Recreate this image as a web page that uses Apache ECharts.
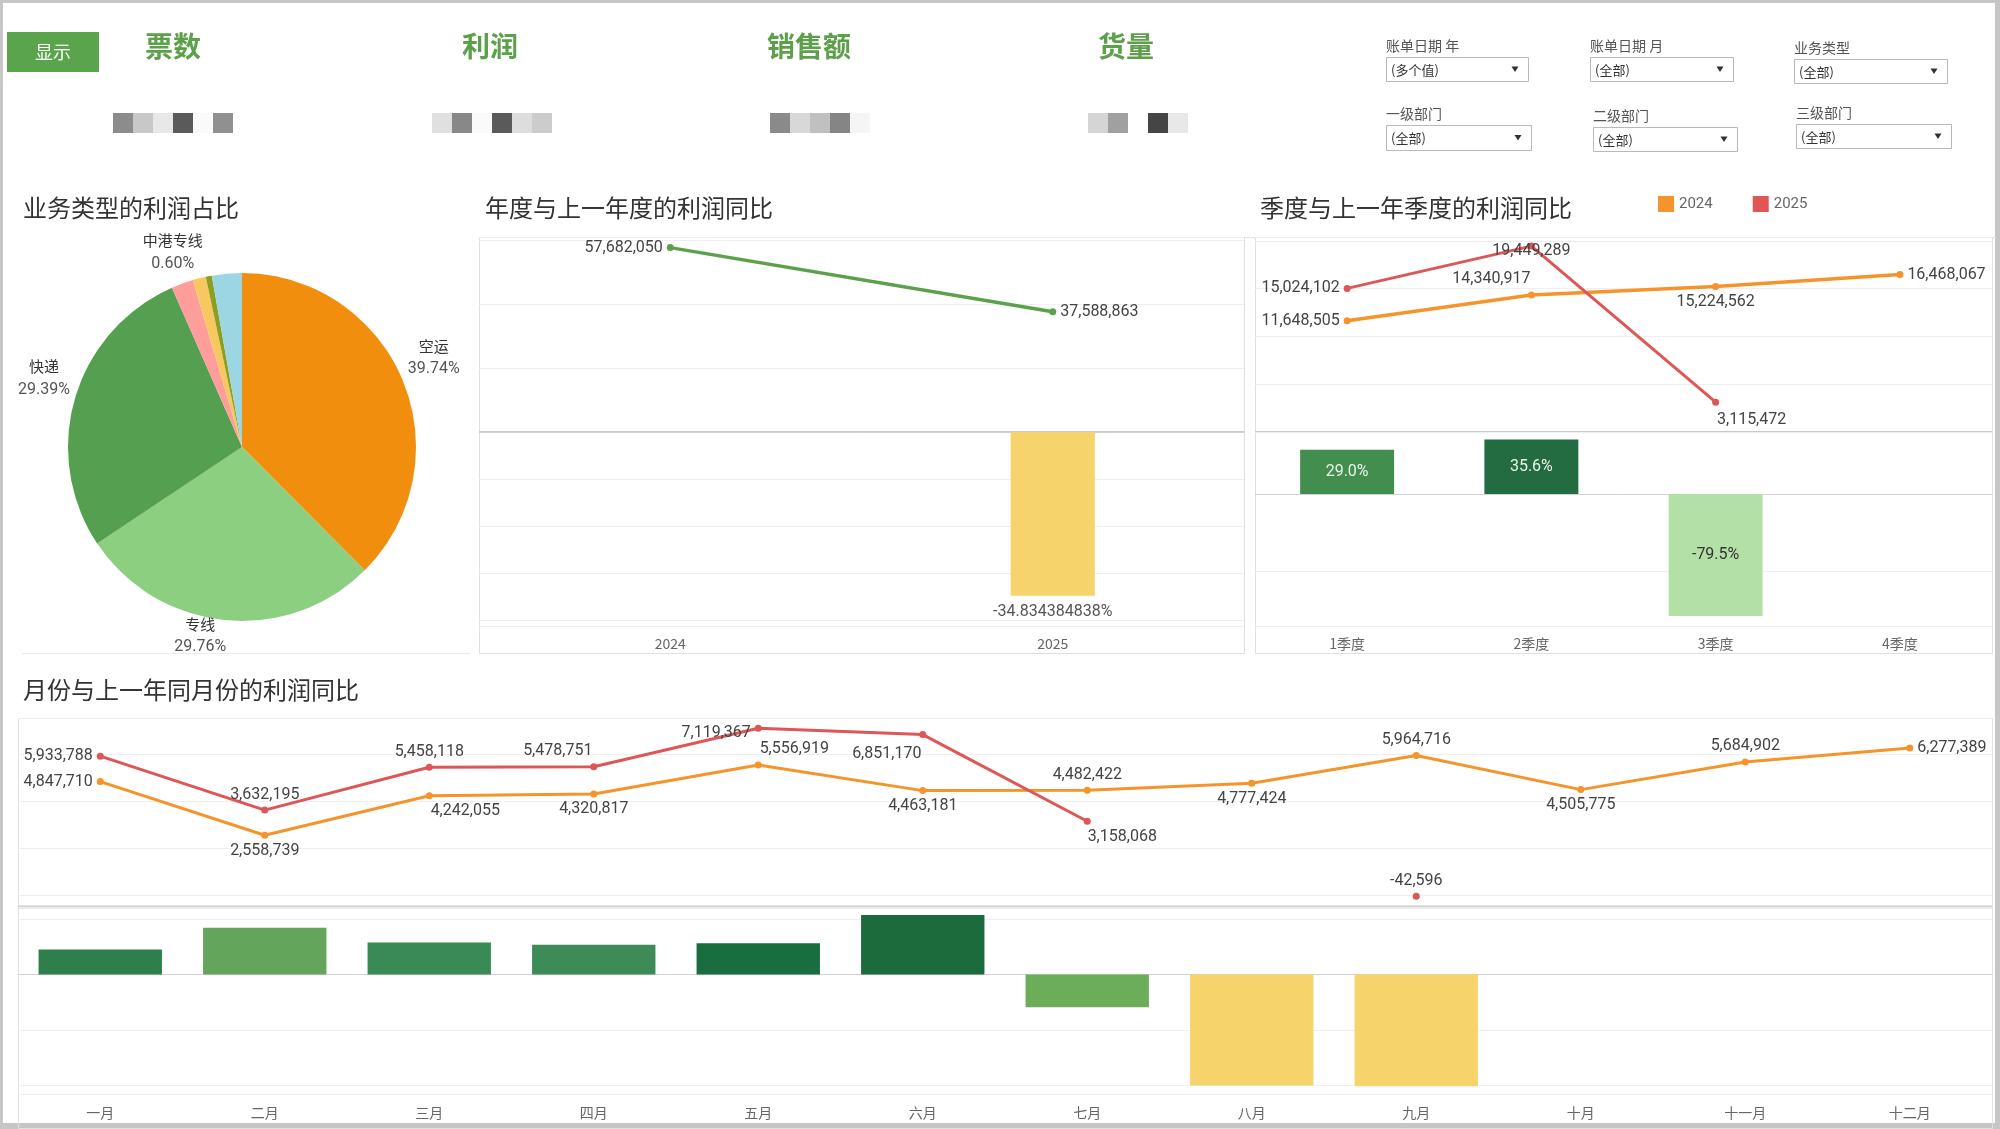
<!DOCTYPE html>
<html>
<head>
<meta charset="utf-8">
<title>利润分析</title>
<script src="https://cdn.jsdelivr.net/npm/echarts@6/dist/echarts.min.js"></script>
<style>
html, body { margin: 0; padding: 0; background: #fff; }
#main { width: 2000px; height: 1129px; }
</style>
</head>
<body>
<div id="main"></div>
<script>
// ---- data ----
const kpiNames = ['票数', '利润', '销售额', '货量'];
const filterLabels = ['账单日期 年', '账单日期 月', '业务类型', '一级部门', '二级部门', '三级部门'];
const filterValues = ['(多个值)', '(全部)', '(全部)', '(全部)', '(全部)', '(全部)'];

const pieNames = ['空运', '专线', '快递', '海运', '陆运', '中港专线', '其他'];
const pieProfit = [37861000, 28352000, 28000000, 2050000, 1230000, 571600, -2800000];

const years = ['2024', '2025'];
const yearProfit = [57682050, 37588863];
const yearYoY = [null, -34.834384838];

const quarters = ['1季度', '2季度', '3季度', '4季度'];
const q2024 = [11648505, 14340917, 15224562, 16468067];
const q2025 = [15024102, 19449289, 3115472, null];
const qYoY = [29.0, 35.6, -79.5, null];

const months = ['一月', '二月', '三月', '四月', '五月', '六月', '七月', '八月', '九月', '十月', '十一月', '十二月'];
const m2024 = [4847710, 2558739, 4242055, 4320817, 5556919, 4463181, 4482422, 4777424, 5964716, 4505775, 5684902, 6277389];
const m2025 = [5933788, 3632195, 5458118, 5478751, 7119367, 6851170, 3158068, null, -42596, null, null, null];
const mYoY = [22.4, 42.0, 28.7, 26.8, 28.1, 53.5, -29.5, -100, -100.7, null, null, null];

// ---- styles ----
const FONT = '"Noto Sans CJK SC", "Noto Sans", sans-serif';
const NUM_FONT = 'Roboto, "Noto Sans", sans-serif';
const ORANGE = '#f5942a', RED = '#de5656', GREEN = '#5ba14c';
const pieColors = ['#f28e0e', '#8ccf80', '#559f50', '#ff9d9a', '#f6c85f', '#8c9f22', '#9dd6e3'];
const pieLabeled = [true, true, true, false, false, true, false];
const pieLabelShift = [[0, -10], [-22, -8], [0, -11], [0, 0], [0, 0], [-31, 2], [0, 0]];
const yearBarColors = ['#f7d36b', '#f7d36b'];
const qBarColors = ['#418e4f', '#236b40', '#b3e0a6', '#b3e0a6'];
const qBarText = ['#eaf5ea', '#eaf5ea', '#333', '#333'];
const mBarColors = ['#2f7f4d', '#63a55a', '#3a8a55', '#3d8c57', '#186e3e', '#1b6b3d', '#6cad5a', '#f7d36b', '#f7d36b', '#ccc', '#ccc', '#ccc'];

// label placement per point: [position, offset]
const annualPos = [['left', [0, 0]], ['right', [0, 0]]];
const q2024Pos = [['left', [0, 0]], ['top', [-40, 0]], ['bottom', [0, 0]], ['right', [0, 0]]];
const q2025Pos = [['left', [0, 0]], ['top', [0, 20]], ['bottom', [36, 2]], ['top', [0, 0]]];
const m2024Pos = [['left', [0, 0]], ['bottom', [0, 0]], ['bottom', [36, 0]], ['bottom', [0, 0]], ['top', [36, 0]], ['bottom', [0, 0]],
  ['top', [0, 0]], ['bottom', [0, 0]], ['top', [0, 0]], ['bottom', [0, 0]], ['top', [0, 0]], ['right', [0, 0]]];
const m2025Pos = [['left', [0, 0]], ['top', [0, 0]], ['top', [0, 0]], ['top', [-36, 0]], ['left', [0, 5]], ['bottom', [-36, 4]],
  ['bottom', [35, 0]], null, ['top', [0, 0]], null, null, null];

const fmt = v => v == null ? '' : Math.round(v).toLocaleString('en-US');
const netProfit = pieProfit.reduce((a, b) => a + b, 0);
const pct = i => (pieProfit[i] / netProfit * 100).toFixed(2) + '%';

function pointData(values, positions) {
  return values.map((v, i) => {
    const p = positions[i] || ['top', [0, 0]];
    return { value: v, label: { position: p[0], offset: p[1] } };
  });
}

function lineSeries(name, idx, values, color, width, positions) {
  return {
    type: 'line', name: name, xAxisIndex: idx, yAxisIndex: idx,
    data: pointData(values, positions),
    symbol: 'circle', symbolSize: 7, showAllSymbol: true, connectNulls: false,
    lineStyle: { color: color, width: width },
    itemStyle: { color: color },
    label: { show: true, formatter: p => fmt(p.value), color: '#444', fontSize: 16, fontFamily: NUM_FONT, distance: 4 },
    emphasis: { disabled: true }, z: 3
  };
}

function catAxis(gi, data, showLabel, margin) {
  return {
    type: 'category', gridIndex: gi, data: data, boundaryGap: true,
    axisTick: { show: false },
    axisLine: { show: showLabel, lineStyle: { color: '#d2d2d2', width: 1 } },
    axisLabel: { show: showLabel, color: '#666', fontSize: 14, margin: margin || 11, fontFamily: FONT },
    splitLine: { show: false }
  };
}

function valAxis(gi, min, max, splitNumber) {
  return {
    type: 'value', gridIndex: gi, min: min, max: max, splitNumber: splitNumber,
    axisLabel: { show: false }, axisLine: { show: false }, axisTick: { show: false },
    splitLine: { show: true, lineStyle: { color: '#efefef', width: 1 } }
  };
}

// ---- decoration (header, filters, frames) ----
const decor = [];
function rect(x, y, w, h, style) { decor.push({ type: 'rect', shape: { x: x, y: y, width: w, height: h }, style: style, silent: true }); }
function line(x1, y1, x2, y2, color, w) { decor.push({ type: 'line', shape: { x1: x1, y1: y1, x2: x2, y2: y2 }, style: { stroke: color, lineWidth: w }, silent: true }); }
function text(x, y, str, font, color, align) {
  decor.push({ type: 'text', x: x, y: y, silent: true,
    style: { text: str, font: font, fill: color, align: align || 'left', textAlign: align || 'left', verticalAlign: 'middle', textVerticalAlign: 'middle' } });
}

// outer frame
rect(0, 0, 2000, 3, { fill: '#c6c6c6' });
rect(0, 0, 3, 1129, { fill: '#c6c6c6' });
rect(1995, 0, 5, 1129, { fill: '#c6c6c6' });
rect(0, 1123, 2000, 6, { fill: '#c6c6c6' });

// button + kpi titles
rect(7, 32, 92, 40, { fill: '#5aa54c' });
text(53, 52, '显示', '18px ' + FONT, '#fff', 'center');
const kpiX = [173, 490, 809, 1126];
kpiNames.forEach((n, i) => text(kpiX[i], 46, n, 'bold 28px ' + FONT, '#5ca04a', 'center'));

// pixelated (masked) kpi values
const mosaicX = [113, 432, 770, 1088];
const mosaicTones = [
  ['#8c8c8c', '#c8c8c8', '#e8e8e8', '#5a5a5a', '#fafafa', '#909090'],
  ['#e0e0e0', '#888888', '#fafafa', '#5a5a5a', '#dddddd', '#cccccc'],
  ['#8a8a8a', '#d8d8d8', '#c0c0c0', '#858585', '#f5f5f5'],
  ['#d5d5d5', '#a0a0a0', '#ffffff', '#454545', '#e8e8e8']
];
mosaicTones.forEach((tones, g) => tones.forEach((c, j) => rect(mosaicX[g] + j * 20, 113, 20, 20, { fill: c })));

// filters
const filterBox = [[1386, 57, 142, 24], [1590, 57, 143, 24], [1794, 59, 153, 24], [1386, 125, 145, 25], [1593, 127, 144, 24], [1796, 124, 155, 24]];
filterLabels.forEach((lab, i) => {
  const b = filterBox[i];
  text(b[0], b[1] - 11, lab, '14px ' + FONT, '#555');
  rect(b[0] + 0.5, b[1] + 0.5, b[2], b[3], { fill: '#fff', stroke: '#b9b9b9', lineWidth: 1 });
  text(b[0] + 5, b[1] + b[3] / 2 + 1, filterValues[i], '13px ' + FONT, '#333');
  const ax = b[0] + b[2] - 13, ay = b[1] + b[3] / 2;
  decor.push({ type: 'polygon', silent: true, shape: { points: [[ax - 3.5, ay - 2.5], [ax + 3.5, ay - 2.5], [ax, ay + 3]] }, style: { fill: '#333' } });
});

// panel frames and separators
rect(479.5, 237.5, 765, 416, { fill: null, stroke: '#e0e0e0', lineWidth: 1 });
rect(1255.5, 237.5, 737, 416, { fill: null, stroke: '#e0e0e0', lineWidth: 1 });
line(1244, 237.5, 1996, 237.5, '#e0e0e0', 1);
rect(18.5, 718.5, 1974, 410, { fill: null, stroke: '#e0e0e0', lineWidth: 1 });
line(22, 653.5, 470, 653.5, '#ececec', 1);
line(479, 432, 1244, 432, '#c9c9c9', 2);
line(1255, 432, 1992, 432, '#c9c9c9', 2);
line(18, 907, 1992, 907, '#cfcfcf', 3);

// ---- chart ----
const chart = echarts.init(document.getElementById('main'), null, { renderer: 'canvas' });

const sectionTitles = ['业务类型的利润占比', '年度与上一年度的利润同比', '季度与上一年季度的利润同比', '月份与上一年同月份的利润同比'];
const titlePos = [[23, 196], [485, 196], [1260, 196], [23, 678]];

chart.setOption({
  animation: false,
  backgroundColor: '#fff',
  textStyle: { fontFamily: FONT },
  title: sectionTitles.map((t, i) => ({
    text: t, left: titlePos[i][0], top: titlePos[i][1], padding: 0,
    textStyle: { fontSize: 24, fontWeight: 'normal', color: '#333', fontFamily: FONT }
  })),
  legend: {
    data: ['2024', '2025'], left: 1658, top: 196, itemWidth: 16, itemHeight: 16, itemGap: 40,
    icon: 'rect', selectedMode: false, padding: 0,
    textStyle: { color: '#666', fontSize: 15, fontFamily: NUM_FONT }
  },
  graphic: { elements: decor },
  grid: [
    { left: 479, top: 237, width: 765, height: 195 },
    { left: 479, top: 432, width: 765, height: 194 },
    { left: 1255, top: 237, width: 737, height: 195 },
    { left: 1255, top: 432, width: 737, height: 194 },
    { left: 18, top: 718, width: 1974, height: 189 },
    { left: 18, top: 907, width: 1974, height: 187 }
  ],
  xAxis: [
    catAxis(0, years, false), catAxis(1, years, true, 11),
    catAxis(2, quarters, false), catAxis(3, quarters, true, 11),
    catAxis(4, months, false), catAxis(5, months, true, 12)
  ],
  yAxis: [
    valAxis(0, 0, 61000000, 3), valAxis(1, -41.3, 0, 4),
    valAxis(2, 0, 20400000, 4), valAxis(3, -86, 40.5, 2),
    valAxis(4, -500000, 7560000, 4), valAxis(5, -107.7, 60.7, 3)
  ],
  series: [
    {
      type: 'pie', center: [242, 447], radius: 174, startAngle: 90, clockwise: true,
      avoidLabelOverlap: false, silent: true,
      data: pieNames.map((n, i) => ({
        name: n, value: Math.abs(pieProfit[i]),
        itemStyle: { color: pieColors[i] },
        label: { show: pieLabeled[i] }
      })),
      label: {
        show: true, position: 'outside',
        formatter: p => '{n|' + p.name + '}\n{p|' + pct(p.dataIndex) + '}',
        rich: {
          n: { fontSize: 15, color: '#333', lineHeight: 23, fontFamily: FONT },
          p: { fontSize: 16, color: '#555', lineHeight: 23, fontFamily: NUM_FONT }
        }
      },
      labelLine: { show: true, length: 10, length2: 0, lineStyle: { opacity: 0 } },
      labelLayout: function (p) {
        const pts = p.labelLinePoints;
        if (!pts) return {};
        let dx = pts[1][0] - pts[0][0], dy = pts[1][1] - pts[0][1];
        const len = Math.sqrt(dx * dx + dy * dy) || 1;
        dx /= len; dy /= len;
        const half = Math.abs(dx) * p.labelRect.width / 2 + Math.abs(dy) * p.labelRect.height / 2;
        const s = pieLabelShift[p.dataIndex];
        return { x: pts[0][0] + dx * (half + 2) + s[0], y: pts[0][1] + dy * (half + 2) + s[1], align: 'center', verticalAlign: 'middle' };
      },
      emphasis: { disabled: true }
    },
    lineSeries('利润', 0, yearProfit, GREEN, 3.5, annualPos),
    {
      type: 'bar', name: '年度同比', xAxisIndex: 1, yAxisIndex: 1, barWidth: '22%',
      data: yearYoY.map((v, i) => ({ value: v, itemStyle: { color: yearBarColors[i] } })),
      label: { show: true, position: 'bottom', distance: 8, formatter: p => p.value + '%', color: '#555', fontSize: 16, fontFamily: NUM_FONT },
      emphasis: { disabled: true }
    },
    lineSeries('2024', 2, q2024, ORANGE, 3.5, q2024Pos),
    lineSeries('2025', 2, q2025, RED, 3, q2025Pos),
    {
      type: 'bar', name: '季度同比', xAxisIndex: 3, yAxisIndex: 3, barWidth: '51%',
      data: qYoY.map((v, i) => ({ value: v, itemStyle: { color: qBarColors[i] }, label: { color: qBarText[i] } })),
      label: { show: true, position: 'inside', formatter: p => p.value.toFixed(1) + '%', fontSize: 16, fontFamily: NUM_FONT },
      emphasis: { disabled: true }
    },
    lineSeries('2024', 4, m2024, ORANGE, 3, m2024Pos),
    lineSeries('2025', 4, m2025, RED, 3, m2025Pos),
    {
      type: 'bar', name: '月度同比', xAxisIndex: 5, yAxisIndex: 5, barWidth: '75%',
      data: mYoY.map((v, i) => ({ value: v, itemStyle: { color: mBarColors[i] } })),
      emphasis: { disabled: true }
    }
  ]
});
</script>
</body>
</html>
